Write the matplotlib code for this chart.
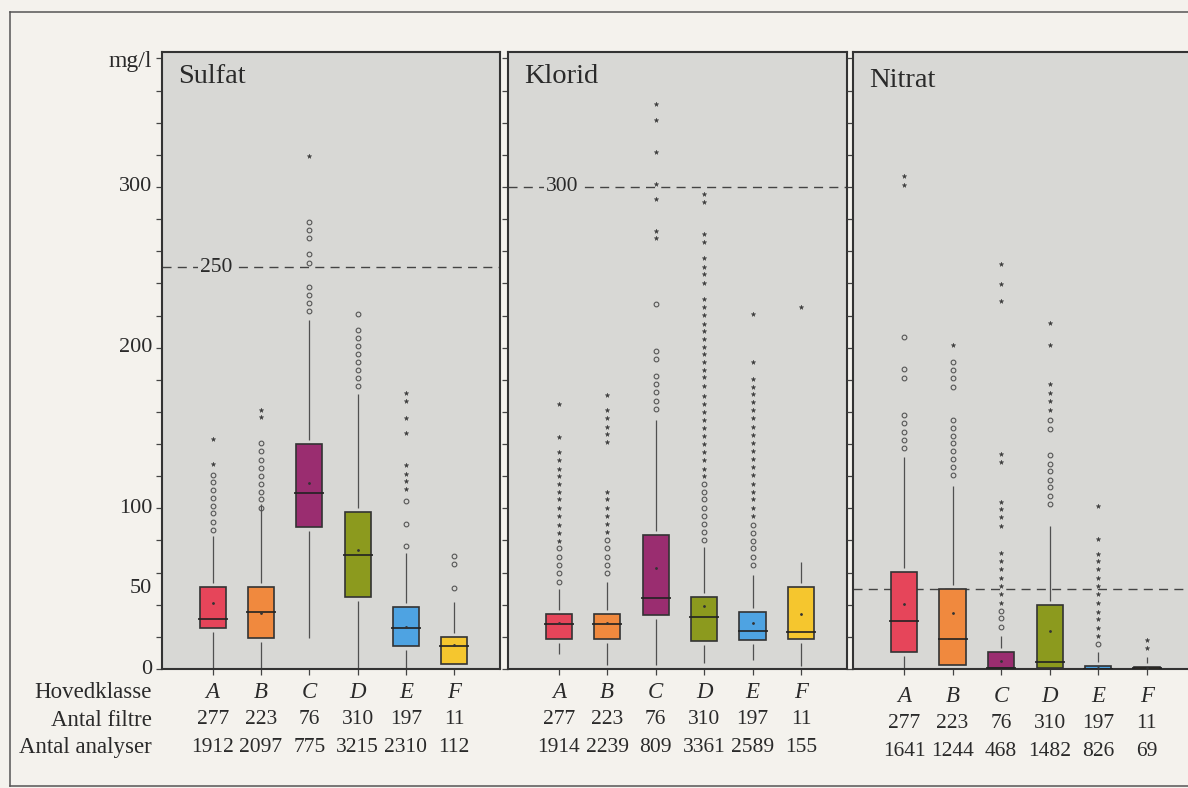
import numpy as np
import matplotlib.pyplot as plt
from matplotlib.lines import Line2D

plt.rcParams['font.family'] = ['Liberation Serif', 'DejaVu Serif']

W, H = 1188, 788
PAGE_BG = '#f4f2ed'
PANEL_BG = '#d8d8d5'
INK = '#2a2a2a'

classes = ['A', 'B', 'C', 'D', 'E', 'F']
box_colors = ['#e6455a', '#f0893e', '#9a2d70', '#8c9a1e', '#4ea3e2', '#f5c62e']
antal_filtre = [277, 223, 76, 310, 197, 11]
row_labels = ['Hovedklasse', 'Antal filtre', 'Antal analyser']

# --- Sulfat
sul_q1 = [25.4, 19.6, 88.1, 45.0, 14.6, 3.3]
sul_med = [31.0, 35.7, 109.8, 70.9, 25.4, 14.6]
sul_q3 = [51.2, 51.2, 139.8, 97.8, 38.5, 19.9]
sul_mean = [41.3, 35.0, 115.8, 74.0, 26.0, 15.0]
sul_wlo = [0, 0, 19.6, 0, 0, 0]
sul_whi = [82.9, 103.0, 217.1, 171.2, 72.0, 41.9]
sul_circ = [[86.4, 91.6, 96.8, 101.5, 106.5, 111.2, 116.4, 121.0],
            [100.2, 105.5, 110.2, 115.4, 120.1, 125.1, 130.3, 135.4, 140.6],
            [222.9, 228.0, 232.8, 237.8, 252.9, 258.1, 268.0, 273.1, 278.1],
            [176, 181, 186, 191, 196, 201, 206, 211, 221],
            [76.5, 90.1, 104.6],
            [50.2, 65.3, 70.5]]
sul_star = [[127.4, 143.3],
            [157.1, 161.3],
            [319.0],
            [],
            [112.3, 117.0, 121.6, 126.7, 147.0, 156.3, 167.1, 171.6],
            []]
sul_analyser = [1912, 2097, 775, 3215, 2310, 112]

# --- Klorid
klo_q1 = [18.6, 18.6, 33.7, 17.7, 18.2, 18.6]
klo_med = [27.9, 27.9, 44.0, 32.3, 23.8, 23.3]
klo_q3 = [34.1, 34.1, 83.3, 44.7, 35.4, 50.9]
klo_mean = [28.5, 28.5, 63.0, 39.0, 28.9, 34.3]
klo_wlo = [9.5, 2.7, 2.7, 3.7, 5.8, 2.0]
klo_whi = [49.6, 54.4, 155.1, 76.1, 58.5, 66.7]
klo_circ = [[54.4, 59.9, 64.7, 69.9, 75.1],
            [59.9, 65.0, 69.9, 75.1, 80.2],
            [161.9, 167.1, 172.2, 177.4, 182.6, 193.2, 197.9, 227.0],
            [80.2, 85.4, 90.1, 95.3, 100.5, 105.5, 110.2, 115.0],
            [64.7, 69.9, 75.1, 79.8, 84.7, 89.9],
            []]
klo_star = [[79.8, 84.7, 89.9, 95.1, 100.2, 105.5, 110.2, 115.4, 119.9, 124.7,
             129.8, 135.0, 144.7, 165.0],
            [85.4, 90.1, 95.3, 100.2, 105.5, 110.2, 141.2, 146.4, 150.9, 156.1,
             161.3, 170.5],
            [268.4, 272.5, 292.8, 301.9, 321.5, 341.4, 351.5],
            [119.9, 124.7, 129.8, 135.0, 139.8, 144.9, 149.9, 155.1, 159.8, 165.0,
             170.2, 176.4, 181.5, 186.1, 190.8, 196.0, 200.6, 205.3, 210.5, 215.0,
             220.2, 225.6, 230.5, 240.4, 245.7, 250.4, 255.6, 265.7, 270.9, 290.5,
             295.9],
            [95.1, 100.2, 105.5, 110.2, 115.4, 120.5, 125.7, 130.5, 135.4, 140.6,
             145.8, 150.5, 156.1, 160.9, 166.0, 171.2, 175.7, 180.5, 190.8, 220.8],
            [225.6]]
klo_analyser = [1914, 2239, 809, 3361, 2589, 155]

# --- Nitrat
nit_q1 = [10.3, 2.5, 0.4, 0.4, 0.0, 0.0]
nit_med = [30.0, 18.6, 0.4, 4.1, 0.3, 0.5]
nit_q3 = [60.4, 50.0, 10.3, 39.7, 1.6, 1.2]
nit_mean = [40.3, 35.1, 5.0, 23.8, 0.5, 0.5]
nit_wlo = [0, 0, 0, 0, 0, 0]
nit_whi = [131.7, 114.1, 20.7, 89.3, 10.7, 7.6]
nit_circ = [[137.5, 142.7, 147.8, 153.0, 158.2, 181.3, 186.7, 206.8],
            [120.5, 125.7, 130.6, 135.4, 140.6, 145.2, 149.9, 155.1, 175.7,
             180.9, 186.1, 191.3],
            [26.4, 31.6, 36.2],
            [102.7, 107.9, 113.1, 117.9, 123.0, 127.8, 132.9, 149.5, 155.1],
            [15.5],
            []]
nit_star = [[301.2, 307.1],
            [201.6],
            [41.3, 46.5, 51.7, 56.8, 62.0, 67.2, 72.3, 89.3, 94.5, 99.3, 104.0,
             128.6, 133.7, 228.9, 239.8, 252.2],
            [161.3, 166.9, 172.0, 177.4, 201.6, 215.6],
            [20.7, 25.8, 31.0, 35.7, 41.3, 46.5, 51.7, 56.8, 62.0, 67.2, 71.3,
             81.0, 101.3],
            [12.8, 18.2]]
nit_analyser = [1641, 1244, 468, 1482, 826, 69]

# grenseverdier (dashed lines)
limits = [250, 300, 50]
limit_text = ['250', '300', None]

panels = [
    ('Sulfat', 162, 338, 0, sul_q1, sul_med, sul_q3, sul_mean, sul_wlo, sul_whi,
     sul_circ, sul_star, sul_analyser),
    ('Klorid', 508, 339, 0, klo_q1, klo_med, klo_q3, klo_mean, klo_wlo, klo_whi,
     klo_circ, klo_star, klo_analyser),
    ('Nitrat', 853, 340, 4, nit_q1, nit_med, nit_q3, nit_mean, nit_wlo, nit_whi,
     nit_circ, nit_star, nit_analyser),
]

fig = plt.figure(figsize=(W / 100, H / 100), dpi=100)
fig.patch.set_facecolor(PAGE_BG)

# page frame
fig.add_artist(Line2D([10 / W, 10 / W], [1 - 12 / H, 1 - 786 / H], color='#555555', lw=1.1))
fig.add_artist(Line2D([10 / W, 1.0], [1 - 12 / H, 1 - 12 / H], color='#555555', lw=1.1))
fig.add_artist(Line2D([10 / W, 1.0], [1 - 786 / H, 1 - 786 / H], color='#555555', lw=1.1))

AX_TOP, AX_BOT = 52, 669
YMAX = 384
x = np.arange(1, 7)
row_y = [693, 720, 747]

for k, (name, left, width, dy, q1, med, q3, mean, wlo, whi, circ, star, analyser) in enumerate(panels):
    ax = fig.add_axes([left / W, 1 - AX_BOT / H, width / W, (AX_BOT - AX_TOP) / H])
    ax.set_facecolor(PANEL_BG)
    ax.set_xlim(-0.05, 6.95)
    ax.set_ylim(0, YMAX)
    for s in ax.spines.values():
        s.set_color('#333333')
        s.set_linewidth(1.5)

    ax.set_yticks(np.arange(0, 381, 20))
    ax.set_yticklabels([])
    ax.tick_params(axis='y', direction='out', length=4, width=0.9, color='#444444')
    ax.set_xticks(x)
    ax.set_xticklabels([])
    ax.tick_params(axis='x', direction='out', length=4, width=0.9, color='#444444')

    # limit line
    ax.axhline(limits[k], color='#444444', lw=1.0, dashes=(6.5, 4.5), zorder=1)
    if limit_text[k]:
        ax.text(0.16, limits[k], limit_text[k], transform=ax.get_yaxis_transform(),
                ha='center', va='center', fontsize=15.5, color=INK, zorder=2,
                bbox=dict(fc=PANEL_BG, ec='none', pad=1.5))

    gap = 2.5
    for i in range(6):
        xi = x[i]
        if whi[i] > q3[i] + gap:
            ax.vlines(xi, q3[i] + gap, whi[i], color='#505050', lw=0.9, zorder=2)
        if q1[i] - gap > wlo[i]:
            ax.vlines(xi, wlo[i], q1[i] - gap, color='#505050', lw=0.9, zorder=2)
        ax.bar(xi, q3[i] - q1[i], bottom=q1[i], width=0.54, color=box_colors[i],
               edgecolor='#333333', linewidth=1.2, zorder=3)
        ax.hlines(med[i], xi - 0.31, xi + 0.31, color='#222222', lw=1.2, zorder=4)
        ax.plot(xi, mean[i], '.', ms=2, color='#333333', zorder=5)
        ax.plot([xi] * len(circ[i]), circ[i], 'o', mfc='none', mec='#555555',
                ms=3.4, mew=0.8, zorder=3, clip_on=False)
        ax.plot([xi] * len(star[i]), star[i], '*', color='#3a3a3a', ms=3.4,
                mew=0.3, zorder=3, clip_on=False)

    ax.text(16 / width, 1 - 31 / (AX_BOT - AX_TOP) if k < 2 else 1 - 35 / (AX_BOT - AX_TOP),
            name, transform=ax.transAxes, fontsize=20.5, color=INK,
            ha='left', va='baseline')

    # table under the panel
    tr = ax.get_xaxis_transform()
    for i in range(6):
        vals = [classes[i], str(antal_filtre[i]), str(analyser[i])]
        for r in range(3):
            ax.text(x[i], (AX_BOT - row_y[r] - dy) / (AX_BOT - AX_TOP), vals[r],
                    transform=tr, ha='center', va='center', color=INK,
                    fontsize=16.5 if r == 0 else 15.5,
                    style='italic' if r == 0 else 'normal', clip_on=False)

    if k == 0:
        ytr = ax.get_yaxis_transform()
        for v in [0, 50, 100, 200, 300]:
            ax.text(-10 / width, v, str(v), transform=ytr, ha='right', va='center',
                    fontsize=16, color=INK)
        ax.text(-10 / width, 378, 'mg/l', transform=ytr, ha='right', va='center',
                fontsize=17, color=INK)

for r in range(3):
    fig.text(152 / W, 1 - row_y[r] / H, row_labels[r], ha='right', va='center',
             fontsize=16.5, color=INK)

fig.savefig('out.png', dpi=100, facecolor=fig.get_facecolor())
